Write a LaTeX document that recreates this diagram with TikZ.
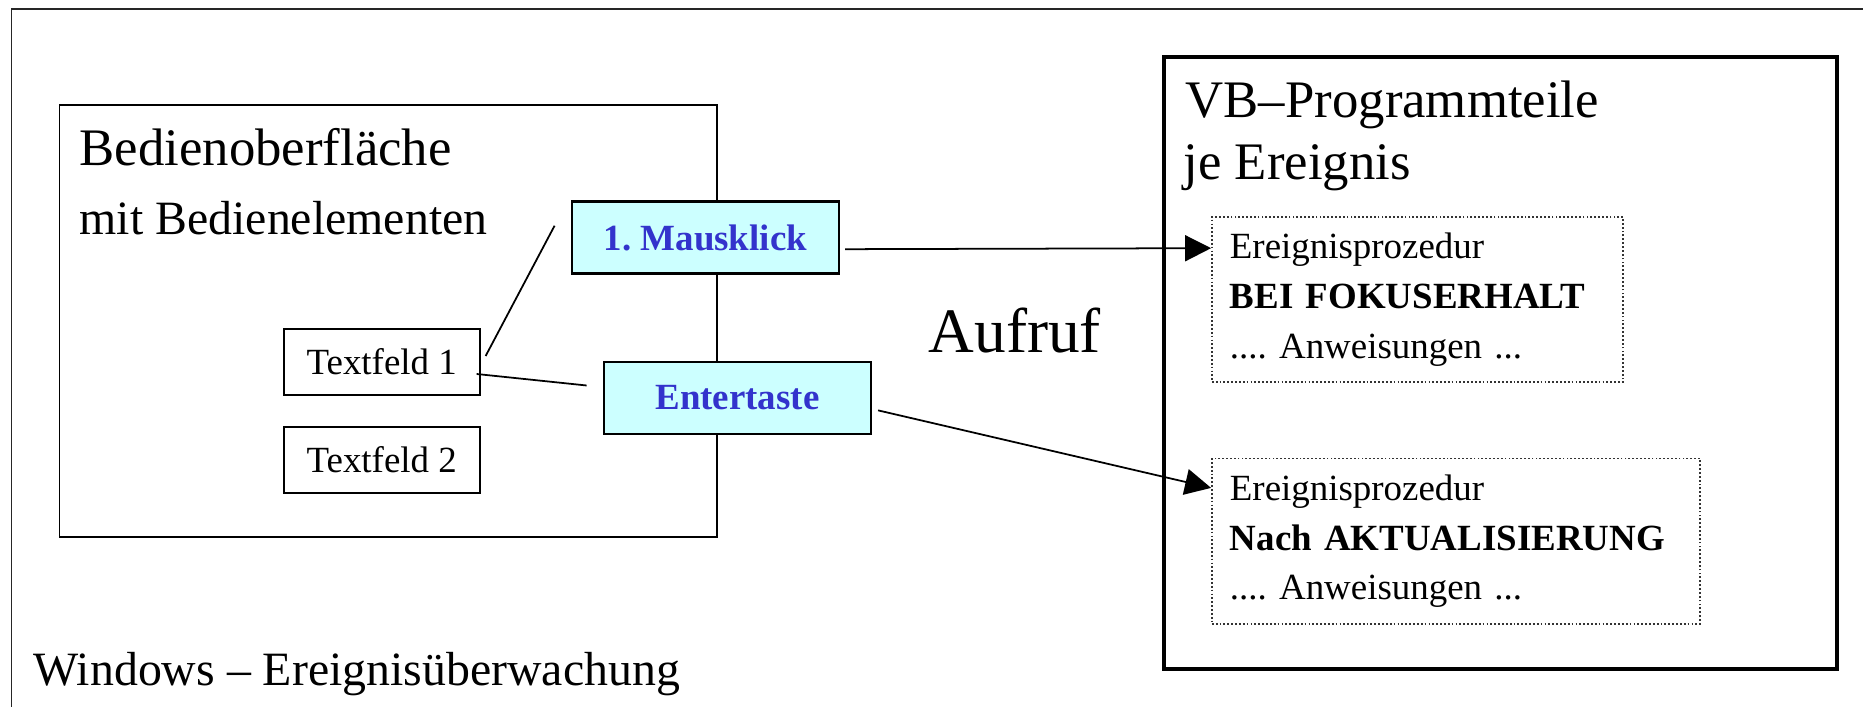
\documentclass[tikz,border=0pt]{standalone}
\usepackage{fontspec}
\setmainfont{Liberation Serif}
\usepackage{tikz}
\usetikzlibrary{
  arrows.meta,
  positioning,
  calc
}
\definecolor{evKey}{HTML}{CCFFFF}
\definecolor{evInk}{HTML}{3333CC}
\frenchspacing
\tikzset{
  evnode/.style={
    draw, line width=0.5pt, inner sep=0pt,
    font=\fontsize{10.5}{12.6}\selectfont
  },
  evfield/.style={evnode, minimum width=19.6mm, minimum height=6.6mm},
  evkey/.style={evnode, fill=evKey, text=evInk, line width=0.7pt,
    minimum width=26.7mm, minimum height=7.2mm,
    font=\fontsize{10.5}{12.6}\selectfont\bfseries},
  evpanel/.style={draw, line width=0.5pt, inner sep=0pt},
  evprog/.style={draw, line width=1.2pt, inner sep=0pt},
  evproc/.style={
    draw=black!80, dash pattern=on 0.5pt off 0.6pt, line width=0.45pt, align=left,
    inner xsep=1.8mm, inner ysep=0pt, minimum height=16.5mm,
    font=\fontsize{10.5}{14.2}\selectfont
  },
  evtitle/.style={anchor=base west, inner sep=0pt},
  evcall/.style={-{Triangle[length=2.6mm, width=2.6mm]}, line width=0.5pt},
  evlink/.style={line width=0.5pt},
  evframe/.style={line width=0.5pt, black!85}
}

\begin{document}
\begin{tikzpicture}[x=0.01cm, y=-0.01cm, node distance=3mm]
  \useasboundingbox (0,0) rectangle (1863,707);
  \draw[evframe] (11.5,9.3) rectangle (1900,740);

  % user interface with its controls
  \node[evpanel, minimum width=65.7mm, minimum height=43.2mm] (ui) at (388.3,321.2) {};
  \node[evtitle, font=\fontsize{15}{18}\selectfont] (uititle) at (79,166) {Bedienoberfläche};
  \node[evtitle, font=\fontsize{13.6}{16}\selectfont] (uisub) at (79,235) {mit Bedienelementen};
  \node[evfield] (tf1) at (381.7,362) {Textfeld 1};
  \node[evfield, below=of tf1] (tf2) {Textfeld 2};

  \node[evkey] (mouse) at (705.4,237.7) {1. Mausklick};
  \node[evkey] (enter) at (737.4,398) {Entertaste};

  \draw[evlink] ([shift={(0.5mm,0.6mm)}]tf1.east) -- ([shift={(-1.6mm,1.2mm)}]mouse.west);
  \draw[evlink] ([shift={(-0.4mm,-1.2mm)}]tf1.east) -- ([shift={(-1.6mm,1.25mm)}]enter.west);

  % program side
  \node[evprog, minimum width=67.3mm, minimum height=61.2mm] (prog) at (1500.5,363) {};
  \node[evtitle, font=\fontsize{15}{18}\selectfont] (progtitle) at (1185,118) {VB--Programmteile};
  \node[evtitle, font=\fontsize{15}{18}\selectfont] (progsub) at (1183,180) {je Ereignis};

  \node[evproc, text width=37.5mm] (proc1) at (1417.5,299.5)
    {Ereignisprozedur\\\textbf{BEI FOKUSERHALT}\\.... Anweisungen ...};
  \node[evproc, text width=45.2mm, below=7.5mm of proc1.south west, anchor=north west] (proc2)
    {Ereignisprozedur\\\textbf{Nach AKTUALISIERUNG}\\.... Anweisungen ...};

  \node[evtitle, font=\fontsize{18}{21}\selectfont] (call) at (928,353) {Aufruf};

  \draw[evcall, shorten <=0.5mm] ([yshift=-1.15mm]mouse.east) -- ([yshift=-3.2mm]proc1.north west);
  \draw[evcall, shorten <=0.6mm] ([yshift=-1.1mm]enter.east) -- ([yshift=-3mm]proc2.north west);

  \node[evtitle, font=\fontsize{13.6}{16}\selectfont] (win) at (33,686) {Windows -- Ereignisüberwachung};
\end{tikzpicture}
\end{document}
